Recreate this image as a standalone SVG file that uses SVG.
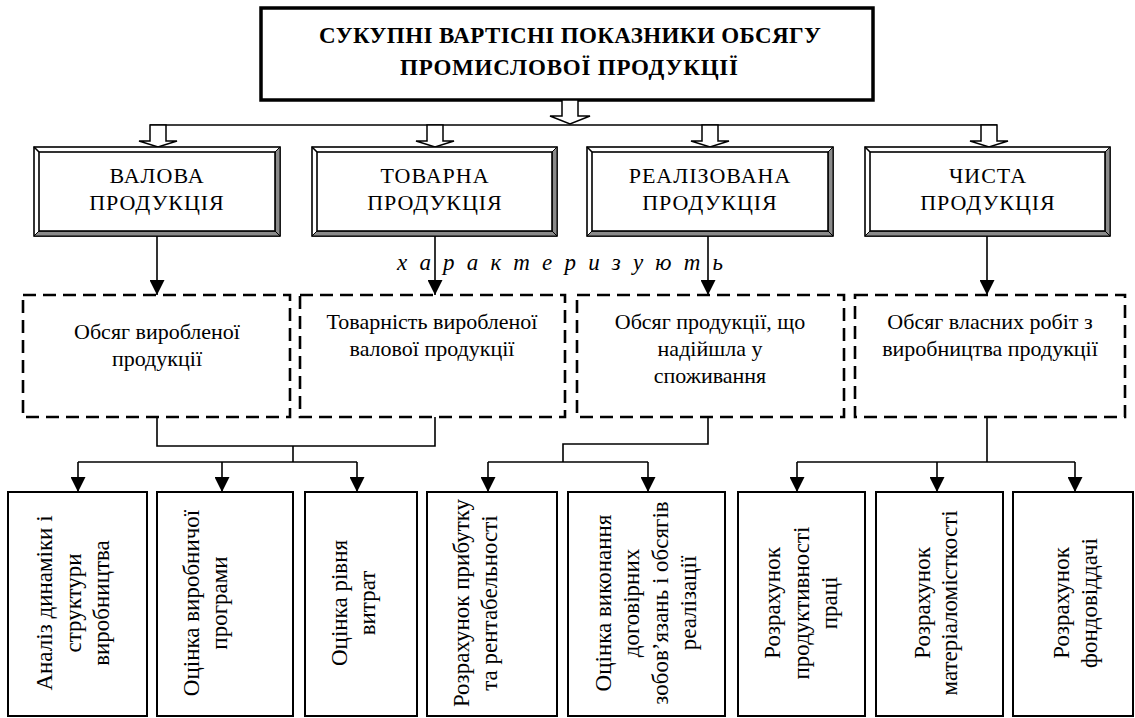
<svg xmlns="http://www.w3.org/2000/svg" width="1135" height="718" viewBox="0 0 1135 718">
<style>
text{font-family:"Liberation Serif","Times New Roman",serif;fill:#000}
.t{font-size:23px;font-weight:bold;text-anchor:middle}
.c{font-size:22px;text-anchor:middle;letter-spacing:1px}
.d{font-size:22px;text-anchor:middle}
.r{font-size:23px;text-anchor:middle}
.it{font-size:23px;font-style:italic}
.ln{fill:none;stroke:#000;stroke-width:1.6}
.dash{fill:#fff;stroke:#000;stroke-width:2.6;stroke-dasharray:13 7}
.box{fill:#fff;stroke:#000;stroke-width:2}
.bv{fill:#fff;stroke:#000;stroke-width:1.6}
.gr{fill:#8a8a8a;stroke:#000;stroke-width:1}
.ha{fill:#fff;stroke:#000;stroke-width:1.5}
</style>
<defs>
<marker id="ah" markerWidth="16" markerHeight="15" refX="15" refY="7.5" orient="auto" markerUnits="userSpaceOnUse">
<path d="M0,0 L15,7.5 L0,15 Z" fill="#000"/>
</marker>
</defs>
<rect width="1135" height="718" fill="#fff"/>

<g id="title">
<rect x="261" y="8" width="612" height="92" fill="#fff" stroke="#000" stroke-width="3.5"/>
<text class="t" x="570" y="43" textLength="502" lengthAdjust="spacing">СУКУПНІ ВАРТІСНІ ПОКАЗНИКИ ОБСЯГУ</text>
<text class="t" x="569" y="75" textLength="338" lengthAdjust="spacing">ПРОМИСЛОВОЇ ПРОДУКЦІЇ</text>
</g>

<g id="connectors">
<line class="ln" x1="150" y1="125" x2="997" y2="125"/>
<polygon class="ha" points="562,100 578,100 578,116 590,116 570,124 550,116 562,116"/>
<polygon class="ha" points="150,125 166,125 166,141 177,141 158,147 139,141 150,141"/>
<polygon class="ha" points="427,125 443,125 443,141 454,141 435,147 416,141 427,141"/>
<polygon class="ha" points="702,125 718,125 718,141 729,141 710,147 691,141 702,141"/>
<polygon class="ha" points="981,125 997,125 997,141 1008,141 989,147 970,141 981,141"/>
<line class="ln" x1="157" y1="236" x2="157" y2="295" marker-end="url(#ah)"/>
<line class="ln" x1="435" y1="236" x2="435" y2="295" marker-end="url(#ah)"/>
<line class="ln" x1="708" y1="236" x2="708" y2="295" marker-end="url(#ah)"/>
<line class="ln" x1="987" y1="236" x2="987" y2="295" marker-end="url(#ah)"/>
<polyline class="ln" points="157,417 157,446 435,446 435,417"/>
<line class="ln" x1="293" y1="446" x2="293" y2="462"/>
<line class="ln" x1="78" y1="462" x2="357" y2="462"/>
<line class="ln" x1="78" y1="462" x2="78" y2="492" marker-end="url(#ah)"/>
<line class="ln" x1="222" y1="462" x2="222" y2="492" marker-end="url(#ah)"/>
<line class="ln" x1="357" y1="462" x2="357" y2="492" marker-end="url(#ah)"/>
<polyline class="ln" points="708,417 708,444 563,444 563,462"/>
<line class="ln" x1="488" y1="462" x2="648" y2="462"/>
<line class="ln" x1="488" y1="462" x2="488" y2="492" marker-end="url(#ah)"/>
<line class="ln" x1="648" y1="462" x2="648" y2="492" marker-end="url(#ah)"/>
<line class="ln" x1="987" y1="417" x2="987" y2="462"/>
<line class="ln" x1="797" y1="462" x2="1075" y2="462"/>
<line class="ln" x1="797" y1="462" x2="797" y2="492" marker-end="url(#ah)"/>
<line class="ln" x1="937" y1="462" x2="937" y2="492" marker-end="url(#ah)"/>
<line class="ln" x1="1075" y1="462" x2="1075" y2="492" marker-end="url(#ah)"/>
</g>

<g id="cat-valova">
<rect class="bv" x="34" y="147" width="246" height="89"/>
<polygon class="gr" points="280,147 280,236 275,231 275,152"/>
<polygon class="gr" points="34,236 280,236 275,231 39,231"/>
<line class="ln" x1="34" y1="147" x2="39" y2="152"/>
<rect class="bv" x="39" y="152" width="236" height="79"/>
<text class="c" x="157" y="183">ВАЛОВА</text>
<text class="c" x="157" y="210">ПРОДУКЦІЯ</text>
</g>
<g id="cat-tovarna">
<rect class="bv" x="312" y="147" width="245" height="89"/>
<polygon class="gr" points="557,147 557,236 552,231 552,152"/>
<polygon class="gr" points="312,236 557,236 552,231 317,231"/>
<line class="ln" x1="312" y1="147" x2="317" y2="152"/>
<rect class="bv" x="317" y="152" width="235" height="79"/>
<text class="c" x="435" y="183">ТОВАРНА</text>
<text class="c" x="435" y="210">ПРОДУКЦІЯ</text>
</g>
<g id="cat-realizovana">
<rect class="bv" x="587" y="147" width="246" height="89"/>
<polygon class="gr" points="833,147 833,236 828,231 828,152"/>
<polygon class="gr" points="587,236 833,236 828,231 592,231"/>
<line class="ln" x1="587" y1="147" x2="592" y2="152"/>
<rect class="bv" x="592" y="152" width="236" height="79"/>
<text class="c" x="710" y="183">РЕАЛІЗОВАНА</text>
<text class="c" x="710" y="210">ПРОДУКЦІЯ</text>
</g>
<g id="cat-chysta">
<rect class="bv" x="865" y="147" width="245" height="89"/>
<polygon class="gr" points="1110,147 1110,236 1105,231 1105,152"/>
<polygon class="gr" points="865,236 1110,236 1105,231 870,231"/>
<line class="ln" x1="865" y1="147" x2="870" y2="152"/>
<rect class="bv" x="870" y="152" width="235" height="79"/>
<text class="c" x="988" y="183">ЧИСТА</text>
<text class="c" x="988" y="210">ПРОДУКЦІЯ</text>
</g>

<g id="label-kharakteryzuiut">
<text class="it" x="397" y="270" textLength="326" lengthAdjust="spacing">х а р а к т е р и з у ю т ь</text>
</g>

<g id="ind-obsyag-vyroblenoi">
<rect class="dash" x="23" y="295" width="267" height="122"/>
<text class="d" x="157" y="339">Обсяг виробленої</text>
<text class="d" x="157" y="366">продукції</text>
</g>
<g id="ind-tovarnist">
<rect class="dash" x="300" y="295" width="265" height="122"/>
<text class="d" x="432" y="329">Товарність виробленої</text>
<text class="d" x="432" y="356">валової продукції</text>
</g>
<g id="ind-spozhyvannia">
<rect class="dash" x="577" y="295" width="267" height="122"/>
<text class="d" x="710" y="329">Обсяг продукції, що</text>
<text class="d" x="710" y="356">надійшла у</text>
<text class="d" x="710" y="383">споживання</text>
</g>
<g id="ind-vlasni-roboty">
<rect class="dash" x="855" y="295" width="270" height="122"/>
<text class="d" x="990" y="329">Обсяг власних робіт з</text>
<text class="d" x="990" y="356">виробництва продукції</text>
</g>

<g id="res-dynamika">
<rect class="box" x="8" y="492" width="139" height="224"/>
<text class="r" transform="translate(52,603) rotate(-90)">Аналіз динаміки і</text>
<text class="r" transform="translate(81,603) rotate(-90)">структури</text>
<text class="r" transform="translate(109,603) rotate(-90)">виробництва</text>
</g>
<g id="res-vyrobnycha-programa">
<rect class="box" x="157" y="492" width="136" height="224"/>
<text class="r" transform="translate(199,603) rotate(-90)">Оцінка виробничої</text>
<text class="r" transform="translate(227,603) rotate(-90)">програми</text>
</g>
<g id="res-vytraty">
<rect class="box" x="305" y="492" width="112" height="224"/>
<text class="r" transform="translate(347,603) rotate(-90)">Оцінка рівня</text>
<text class="r" transform="translate(375,603) rotate(-90)">витрат</text>
</g>
<g id="res-prybutok">
<rect class="box" x="427" y="492" width="130" height="224"/>
<text class="r" transform="translate(469,603) rotate(-90)">Розрахунок прибутку</text>
<text class="r" transform="translate(497,603) rotate(-90)">та рентабельності</text>
</g>
<g id="res-dogovory">
<rect class="box" x="568" y="492" width="157" height="224"/>
<text class="r" transform="translate(611,603) rotate(-90)">Оцінка виконання</text>
<text class="r" transform="translate(639,603) rotate(-90)">договірних</text>
<text class="r" transform="translate(668,603) rotate(-90)">зобов’язань і обсягів</text>
<text class="r" transform="translate(696,603) rotate(-90)">реалізації</text>
</g>
<g id="res-produktyvnist">
<rect class="box" x="738" y="492" width="127" height="224"/>
<text class="r" transform="translate(780,603) rotate(-90)">Розрахунок</text>
<text class="r" transform="translate(809,603) rotate(-90)">продуктивності</text>
<text class="r" transform="translate(837,603) rotate(-90)">праці</text>
</g>
<g id="res-materialomistkist">
<rect class="box" x="876" y="492" width="127" height="224"/>
<text class="r" transform="translate(930,603) rotate(-90)">Розрахунок</text>
<text class="r" transform="translate(957,603) rotate(-90)">матеріаломісткості</text>
</g>
<g id="res-fondovviddacha">
<rect class="box" x="1013" y="492" width="120" height="224"/>
<text class="r" transform="translate(1069,603) rotate(-90)">Розрахунок</text>
<text class="r" transform="translate(1097,603) rotate(-90)">фондовіддачі</text>
</g>
</svg>
